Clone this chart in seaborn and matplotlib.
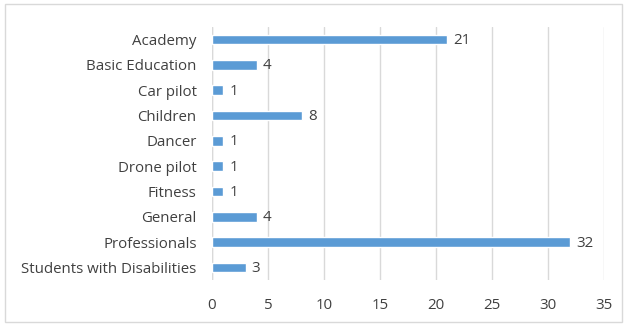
import matplotlib
matplotlib.use("Agg")
import matplotlib.pyplot as plt
import seaborn as sns
import pandas as pd
from matplotlib.patches import Rectangle

categories = ["Academy", "Basic Education", "Car pilot", "Children", "Dancer",
              "Drone pilot", "Fitness", "General", "Professionals",
              "Students with Disabilities"]
counts = [21, 4, 1, 8, 1, 1, 1, 4, 32, 3]
xticks = [0, 5, 10, 15, 20, 25, 30, 35]

df = pd.DataFrame({"category": categories, "count": counts})

sns.set_theme(style="white")
plt.rcParams["font.family"] = ["Open Sans", "DejaVu Sans"]

fig = plt.figure(figsize=(6.29, 3.25), dpi=100)
ax = fig.add_axes([212 / 629, 1 - 280 / 325, (604 - 212) / 629, 253 / 325])

sns.barplot(data=df, x="count", y="category", orient="h", color="#5B9BD5",
            saturation=1, width=0.38, ax=ax)

# value labels just past the end of each bar
for i, v in enumerate(counts):
    ax.text(v + 0.55, i + 0.04, str(v), va="center", ha="left",
            fontsize=10.8, color="#404040")

ax.set_xlim(0, 35)
ax.set_ylim(len(categories) - 0.5, -0.5)
ax.set_xticks(xticks)
ax.set_xticklabels([str(t) for t in xticks])
ax.xaxis.grid(True, color="#D9D9D9", linewidth=1)
ax.set_axisbelow(True)
ax.set_xlabel("")
ax.set_ylabel("")
for s in ax.spines.values():
    s.set_visible(False)
ax.axvline(0, color="#D9D9D9", linewidth=1, zorder=0)
ax.tick_params(axis="both", length=0, labelsize=10.8, colors="#404040")
ax.tick_params(axis="x", pad=13)
ax.tick_params(axis="y", pad=11)

# light frame around the whole chart
fig.patches.append(Rectangle((5 / 629, 3 / 325), 617 / 629, 318 / 325,
                             transform=fig.transFigure, fill=False,
                             edgecolor="#D9D9D9", linewidth=1))

fig.savefig("out.png", dpi=100)
